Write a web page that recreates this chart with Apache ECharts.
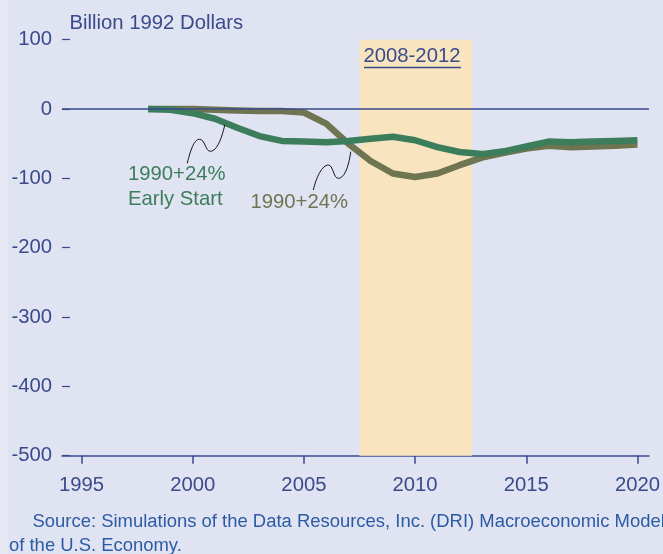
<!DOCTYPE html>
<html><head><meta charset="utf-8">
<script src="https://cdn.jsdelivr.net/npm/echarts@6/dist/echarts.min.js"></script>
<style>html,body{margin:0;padding:0;background:#e0e3f1}#c{width:663px;height:554px}</style>
</head><body><div id="c"></div>
<script>
// ---- data ----
const years = [1998,1999,2000,2001,2002,2003,2004,2005,2006,2007,2008,2009,2010,2011,2012,2013,2014,2015,2016,2017,2018,2019,2020];
const earlyStart = [0,-1,-6,-14,-27,-39,-46,-47,-48,-46,-43,-40,-45,-55,-62,-65,-61,-54,-47,-48,-47,-46,-45];
const base = [0,0,0,-1,-2,-3,-3,-5,-21,-50,-75,-93,-98,-93,-81,-70,-63,-57,-53,-55,-54,-53,-51];
const xTickLabels = [1995,2000,2005,2010,2015,2020];
const yTickLabels = [100,0,-100,-200,-300,-400,-500];
const bandRange = [2007.5, 2012.55];
const bandLabel = '2008-2012';
const unitLabel = 'Billion 1992 Dollars';
const earlyLabel = ['1990+24%', 'Early Start'];
const baseLabel = '1990+24%';
const sourceLines = ['Source: Simulations of the Data Resources, Inc. (DRI) Macroeconomic Model', 'of the U.S. Economy.'];

// ---- styles ----
const FONT = 'Liberation Sans, Arial, sans-serif';
const BLUE = '#3a4a8c';
const GREEN = '#3c7d5b';
const OLIVE = '#6f7451';
const SRC = '#2c5ba6';

const chart = echarts.init(document.getElementById('c'), null, {renderer: 'canvas'});

function squiggle(sx, sy, pts) {
  const out = [];
  let x0 = sx, y0 = sy;
  pts.forEach(p => {
    out.push({type: 'bezierCurve', z: 100, silent: true,
      shape: {x1: x0, y1: y0, cpx1: sx + p[0], cpy1: sy + p[1], cpx2: sx + p[2], cpy2: sy + p[3], x2: sx + p[4], y2: sy + p[5]},
      style: {stroke: '#111', lineWidth: 1, fill: null}});
    x0 = sx + p[4]; y0 = sy + p[5];
  });
  return out;
}

function txt(text, x, y, color, size) {
  return {type: 'text', z: 100, silent: true, x: x, y: y,
    style: {text: text, fill: color, font: size + 'px ' + FONT, align: 'left', verticalAlign: 'middle'}};
}

const graphics = [].concat(
  [{type: 'rect', z: -10, silent: true, shape: {x: 0, y: 0, width: 8, height: 554}, style: {fill: '#e5e7f3'}}],
  [txt(unitLabel, 69.5, 23.5, BLUE, 20.3)],
  [txt(bandLabel, 363.5, 56, BLUE, 20.3),
   {type: 'line', z: 100, silent: true, shape: {x1: 364, y1: 67.5, x2: 461, y2: 67.5}, style: {stroke: BLUE, lineWidth: 1.3}}],
  [txt(earlyLabel[0], 128, 174, GREEN, 20.3), txt(earlyLabel[1], 128, 199.5, GREEN, 20.3)],
  [txt(baseLabel, 250.5, 202.5, OLIVE, 20.3)],
  squiggle(187.3, 163.3, [[3, -13, 7, -24, 12, -24], [18, -24, 18, -12, 23, -12], [30, -12, 35, -27, 37.5, -38.5]]),
  squiggle(313.3, 190, [[3, -13, 9, -25, 15, -25], [20, -25, 20, -11.7, 25, -11.7], [32, -11.7, 36, -27, 37.4, -38.3]]),
  [txt(sourceLines[0], 32.5, 521.5, SRC, 18.45), txt(sourceLines[1], 9, 545.5, SRC, 18.45)]
);

const option = {
  backgroundColor: '#e0e3f1',
  animation: false,
  grid: {left: 62, right: 13.5, top: 39.7, bottom: 98.3, containLabel: false},
  xAxis: {
    type: 'value', min: 1994.12, max: 2020.52,
    axisLine: {show: true, onZero: false, lineStyle: {color: BLUE, width: 1.5}},
    axisTick: {show: true, customValues: xTickLabels, length: 8, lineStyle: {color: BLUE, width: 1.5}},
    axisLabel: {customValues: xTickLabels, margin: 20, fontSize: 20.3, color: BLUE, fontFamily: FONT,
      formatter: v => String(v)},
    splitLine: {show: false}
  },
  yAxis: {
    type: 'value', min: -500, max: 100, interval: 100,
    axisLine: {show: false},
    axisTick: {show: true, inside: true, length: 8, lineStyle: {color: BLUE, width: 1.2}},
    axisLabel: {margin: 10, fontSize: 20.3, color: BLUE, fontFamily: FONT, padding: [8, 0, 0, 0],
      formatter: v => String(v)},
    splitLine: {show: false}
  },
  series: [
    {type: 'line', data: [], z: 1, silent: true,
     markArea: {silent: true, itemStyle: {color: '#f8e5c0'},
       data: [[{xAxis: bandRange[0]}, {xAxis: bandRange[1]}]]}},
    {type: 'line', data: [], z: 2, silent: true,
     markLine: {silent: true, symbol: 'none', label: {show: false},
       lineStyle: {color: BLUE, width: 1.5, type: 'solid'}, data: [{yAxis: 0}]}},
    {name: '1990+24%', type: 'line', z: 3, showSymbol: false, symbol: 'none',
     data: years.map((y, i) => [y, base[i]]),
     lineStyle: {color: OLIVE, width: 6.5, join: 'round', cap: 'butt'}},
    {name: '1990+24% Early Start', type: 'line', z: 4, showSymbol: false, symbol: 'none',
     data: years.map((y, i) => [y, earlyStart[i]]),
     lineStyle: {color: GREEN, width: 6.5, join: 'round', cap: 'butt'}}
  ],
  graphic: {elements: graphics}
};
chart.setOption(option);
</script>
</body></html>
